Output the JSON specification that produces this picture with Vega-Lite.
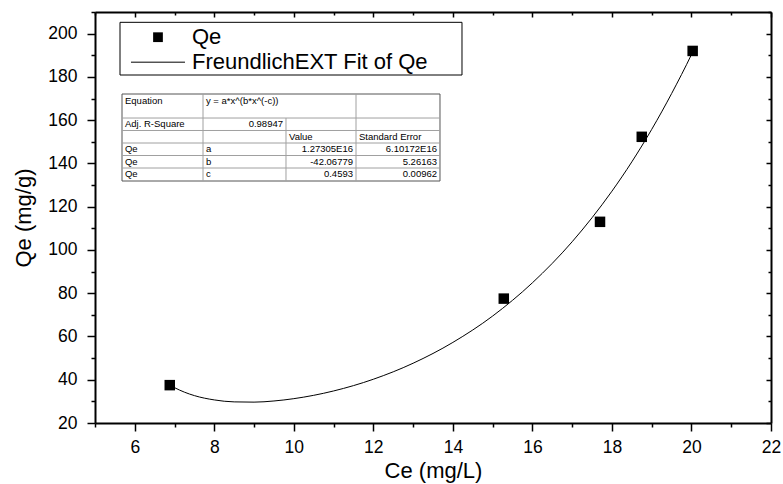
{
  "$schema": "https://vega.github.io/schema/vega-lite/v6.json",
  "width": 676,
  "height": 411,
  "autosize": {"type": "none"},
  "padding": {"left": 95, "top": 12, "right": 12, "bottom": 61},
  "background": "white",
  "config": {
    "view": {"stroke": null},
    "axis": {
      "grid": false,
      "domainColor": "black",
      "domainWidth": 2,
      "tickColor": "black",
      "tickWidth": 1.5,
      "labelFont": "Liberation Sans",
      "labelFontSize": 17.5,
      "labelColor": "black",
      "titleFont": "Liberation Sans",
      "titleFontSize": 22,
      "titleFontWeight": "normal",
      "titleColor": "black",
      "labelOverlap": false,
      "labelFlush": false
    }
  },
  "datasets": {
    "fit": [
      {"Ce": 6.88, "Qe": 37.53}, {"Ce": 7.0, "Qe": 36.34}, {"Ce": 7.25, "Qe": 34.25},
      {"Ce": 7.5, "Qe": 32.66}, {"Ce": 8.0, "Qe": 30.67}, {"Ce": 8.5, "Qe": 29.76},
      {"Ce": 9.0, "Qe": 29.65}, {"Ce": 9.5, "Qe": 30.18}, {"Ce": 10.0, "Qe": 31.25},
      {"Ce": 11.0, "Qe": 34.81}, {"Ce": 12.0, "Qe": 40.23}, {"Ce": 13.0, "Qe": 47.63},
      {"Ce": 14.0, "Qe": 57.26}, {"Ce": 15.0, "Qe": 69.45}, {"Ce": 16.0, "Qe": 84.82},
      {"Ce": 17.0, "Qe": 103.8}, {"Ce": 18.0, "Qe": 127.17}, {"Ce": 18.5, "Qe": 140.72},
      {"Ce": 19.0, "Qe": 155.74}, {"Ce": 19.5, "Qe": 172.27}, {"Ce": 20.0, "Qe": 190.35},
      {"Ce": 20.05, "Qe": 192.28}
    ],
    "obs": [
      {"Ce": 6.88, "Qe": 37.5},
      {"Ce": 15.28, "Qe": 77.5},
      {"Ce": 17.7, "Qe": 113.0},
      {"Ce": 18.75, "Qe": 152.3},
      {"Ce": 20.03, "Qe": 192.0}
    ],
    "legendBox": [{"x": 5.629, "x2": 14.229, "y": 205.23, "y2": 180.87}],
    "legendSymbol": [{"x": 6.584, "y": 198.35}],
    "legendLine": [{"x": 5.905, "x2": 7.263, "y": 186.8}],
    "legendText": [
      {"x": 7.439, "y": 198.35, "t": "Qe"},
      {"x": 7.439, "y": 186.8, "t": "FreundlichEXT Fit of Qe"}
    ],
    "tableBox": [{"x": 5.679, "x2": 13.676, "y": 172.09, "y2": 131.87}],
    "tableLines": [
      {"x": 5.679, "x2": 13.676, "y": 160.99, "y2": 160.99},
      {"x": 5.679, "x2": 13.676, "y": 155.22, "y2": 155.22},
      {"x": 5.679, "x2": 13.676, "y": 149.44, "y2": 149.44},
      {"x": 5.679, "x2": 13.676, "y": 143.66, "y2": 143.66},
      {"x": 5.679, "x2": 13.676, "y": 137.88, "y2": 137.88},
      {"x": 7.716, "x2": 7.716, "y": 172.09, "y2": 131.87},
      {"x": 9.803, "x2": 9.803, "y": 160.99, "y2": 131.87},
      {"x": 11.564, "x2": 11.564, "y": 172.09, "y2": 131.87}
    ],
    "tableLeft": [
      {"x": 5.754, "y": 168.85, "t": "Equation"},
      {"x": 7.791, "y": 168.85, "t": "y = a*x^(b*x^(-c))"},
      {"x": 5.754, "y": 158.11, "t": "Adj. R-Square"},
      {"x": 9.879, "y": 152.33, "t": "Value"},
      {"x": 11.639, "y": 152.33, "t": "Standard Error"},
      {"x": 5.754, "y": 146.55, "t": "Qe"},
      {"x": 7.791, "y": 146.55, "t": "a"},
      {"x": 5.754, "y": 140.77, "t": "Qe"},
      {"x": 7.791, "y": 140.77, "t": "b"},
      {"x": 5.754, "y": 134.88, "t": "Qe"},
      {"x": 7.791, "y": 134.88, "t": "c"}
    ],
    "tableRight": [
      {"x": 9.728, "y": 158.11, "t": "0.98947"},
      {"x": 11.488, "y": 146.55, "t": "1.27305E16"},
      {"x": 13.601, "y": 146.55, "t": "6.10172E16"},
      {"x": 11.488, "y": 140.77, "t": "-42.06779"},
      {"x": 13.601, "y": 140.77, "t": "5.26163"},
      {"x": 11.488, "y": 134.88, "t": "0.4593"},
      {"x": 13.601, "y": 134.88, "t": "0.00962"}
    ]
  },
  "layer": [
    {
      "data": {"name": "legendBox"},
      "mark": {"type": "rect", "fill": "white", "stroke": "black", "strokeWidth": 1},
      "encoding": {
        "x": {"field": "x", "type": "quantitative", "scale": {"domain": [5, 22], "nice": false, "zero": false}, "axis": null},
        "x2": {"field": "x2"},
        "y": {"field": "y", "type": "quantitative", "scale": {"domain": [20, 210], "nice": false, "zero": false}, "axis": null},
        "y2": {"field": "y2"}
      }
    },
    {
      "data": {"name": "legendSymbol"},
      "mark": {"type": "point", "shape": "square", "filled": true, "color": "black", "opacity": 1, "size": 95},
      "encoding": {
        "x": {"field": "x", "type": "quantitative", "axis": null},
        "y": {"field": "y", "type": "quantitative", "axis": null}
      }
    },
    {
      "data": {"name": "legendLine"},
      "mark": {"type": "rule", "stroke": "black", "strokeWidth": 1},
      "encoding": {
        "x": {"field": "x", "type": "quantitative", "axis": null},
        "x2": {"field": "x2"},
        "y": {"field": "y", "type": "quantitative", "axis": null}
      }
    },
    {
      "data": {"name": "legendText"},
      "mark": {"type": "text", "align": "left", "baseline": "middle", "font": "Liberation Sans", "fontSize": 22, "color": "black"},
      "encoding": {
        "x": {"field": "x", "type": "quantitative", "axis": null},
        "y": {"field": "y", "type": "quantitative", "axis": null},
        "text": {"field": "t"}
      }
    },
    {
      "data": {"name": "tableBox"},
      "mark": {"type": "rect", "fill": null, "stroke": "#555555", "strokeWidth": 1},
      "encoding": {
        "x": {"field": "x", "type": "quantitative", "axis": null},
        "x2": {"field": "x2"},
        "y": {"field": "y", "type": "quantitative", "axis": null},
        "y2": {"field": "y2"}
      }
    },
    {
      "data": {"name": "tableLines"},
      "mark": {"type": "rule", "stroke": "#a0a0a0", "strokeWidth": 1},
      "encoding": {
        "x": {"field": "x", "type": "quantitative", "axis": null},
        "x2": {"field": "x2"},
        "y": {"field": "y", "type": "quantitative", "axis": null},
        "y2": {"field": "y2"}
      }
    },
    {
      "data": {"name": "tableLeft"},
      "mark": {"type": "text", "align": "left", "baseline": "middle", "font": "Liberation Sans", "fontSize": 9.5, "color": "black"},
      "encoding": {
        "x": {"field": "x", "type": "quantitative", "axis": null},
        "y": {"field": "y", "type": "quantitative", "axis": null},
        "text": {"field": "t"}
      }
    },
    {
      "data": {"name": "tableRight"},
      "mark": {"type": "text", "align": "right", "baseline": "middle", "font": "Liberation Sans", "fontSize": 9.5, "color": "black"},
      "encoding": {
        "x": {"field": "x", "type": "quantitative", "axis": null},
        "y": {"field": "y", "type": "quantitative", "axis": null},
        "text": {"field": "t"}
      }
    },
    {
      "data": {"name": "fit"},
      "mark": {"type": "line", "color": "black", "strokeWidth": 1, "interpolate": "monotone"},
      "encoding": {
        "x": {
          "field": "Ce", "type": "quantitative",
          "axis": {
            "orient": "bottom",
            "title": "Ce (mg/L)",
            "values": [5,6,7,8,9,10,11,12,13,14,15,16,17,18,19,20,21,22],
            "tickSize": {"condition": {"test": "datum.value % 2 === 0", "value": 8}, "value": 4},
            "labelExpr": "datum.value % 2 === 0 ? datum.label : ''",
            "labelPadding": 7,
            "titlePadding": 5
          }
        },
        "y": {
          "field": "Qe", "type": "quantitative",
          "axis": {
            "orient": "left",
            "title": "Qe (mg/g)",
            "values": [20,30,40,50,60,70,80,90,100,110,120,130,140,150,160,170,180,190,200,210],
            "tickSize": {"condition": {"test": "datum.value % 20 === 0", "value": 8}, "value": 4},
            "labelExpr": "datum.value % 20 === 0 ? datum.label : ''",
            "labelPadding": 10,
            "titlePadding": 12
          }
        }
      }
    },
    {
      "data": {"name": "obs"},
      "mark": {"type": "point", "shape": "square", "filled": true, "color": "black", "opacity": 1, "size": 110},
      "encoding": {
        "x": {
          "field": "Ce", "type": "quantitative",
          "axis": {
            "orient": "top", "title": null, "labels": false,
            "values": [5,6,7,8,9,10,11,12,13,14,15,16,17,18,19,20,21,22],
            "tickSize": {"condition": {"test": "datum.value % 2 === 0", "value": -5}, "value": -3}
          }
        },
        "y": {
          "field": "Qe", "type": "quantitative",
          "axis": {
            "orient": "right", "title": null, "labels": false,
            "values": [20,30,40,50,60,70,80,90,100,110,120,130,140,150,160,170,180,190,200,210],
            "tickSize": {"condition": {"test": "datum.value % 20 === 0", "value": -5}, "value": -3}
          }
        }
      }
    }
  ],
  "resolve": {"axis": {"x": "independent", "y": "independent"}}
}
